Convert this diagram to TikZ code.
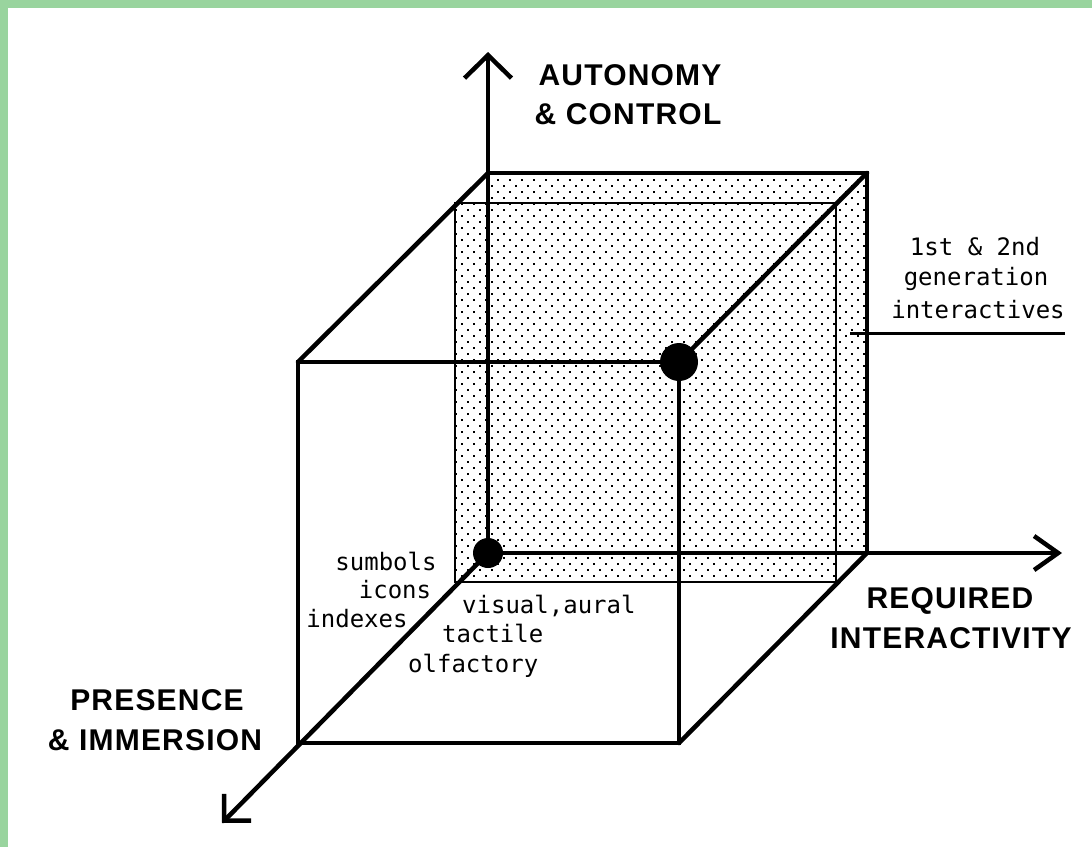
\documentclass[tikz,border=0pt]{standalone}
\usepackage{fontspec}
\usetikzlibrary{arrows.meta}
\newfontfamily\labelfont[LetterSpace=4]{Liberation Sans}
\newfontfamily\smallfont{DejaVu Sans Mono}
\definecolor{bordergreen}{RGB}{153,212,158}
\tikzset{
  thickedge/.style={line width=4.5pt, line cap=round, line join=miter},
  thinedge/.style={line width=1.8pt},
  leader/.style={line width=3pt},
  biglabel/.style={font=\labelfont\bfseries\fontsize{30}{36}\selectfont, inner sep=0pt, anchor=base},
  smalllabel/.style={font=\smallfont\fontsize{24}{28}\selectfont, inner sep=0pt},
  vertex/.style={circle, fill=black, draw=none, inner sep=0pt},
  uptip/.style={-{Straight Barb[length=23pt,width=47pt]}},
  righttip/.style={-{Straight Barb[length=24pt,width=34pt]}},
  diagtip/.style={-{Straight Barb[length=19pt,width=38pt]}}
}
\begin{document}
\begin{tikzpicture}[x=1pt,y=-1pt]
\useasboundingbox (0,0) rectangle (1092,847);
\fill[white] (0,0) rectangle (1092,847);
\fill[bordergreen] (0,0) rectangle (1092,8);
\fill[bordergreen] (0,0) rectangle (8,847);

% cube corners
\coordinate (B1) at (488,173);
\coordinate (B2) at (867,173);
\coordinate (B3) at (867,553);
\coordinate (O) at (488,553);
\coordinate (F1) at (298,362);
\coordinate (F2) at (679,362);
\coordinate (F3) at (679,743);
\coordinate (F4) at (298,743);
\coordinate (ztip) at (488,52);
\coordinate (xtip) at (1062,553);
\coordinate (ytip) at (222,823);
\coordinate (T1) at (455,203);
\coordinate (T2) at (836,582);
\coordinate (lead1) at (850,333);
\coordinate (lead2) at (1065,333);

% dotted shading
\begin{scope}
\clip (455,203) -- (488,203) -- (488,173) -- (867,173) -- (867,553) -- (836,553) -- (836,582) -- (455,582) -- cycle;
\foreach \i in {0,...,35}{
  \foreach \j in {0,...,35}{
    \fill (455+\i*12,173+\j*12) rectangle +(2.4,2.4);
    \fill (461+\i*12,179+\j*12) rectangle +(1.8,1.8);
  }
}
\end{scope}

% thin inner rectangle
\draw[thinedge] (T1) rectangle (T2);

% back face
\draw[thickedge] (B1) -- (B2) -- (B3);

% axes
\draw[thickedge, uptip] (O) -- (ztip);
\draw[thickedge, righttip] (O) -- (xtip);
\draw[thickedge, diagtip] (O) -- (ytip);

% front face
\draw[thickedge] (F1) -- (F2) -- (F3) -- (F4) -- cycle;

% receding edges
\draw[thickedge] (F1) -- (B1);
\draw[thickedge] (F2) -- (B2);
\draw[thickedge] (F3) -- (B3);

% leader line
\draw[leader] (lead1) -- (lead2);

% dots
\node[vertex, minimum size=30pt] (odot) at (O) {};
\node[vertex, minimum size=38pt] (fdot) at (F2) {};

% big labels
\node[biglabel] (autonomy) at (630,85) {AUTONOMY};
\node[biglabel] (control) at (628,124) {\& CONTROL};
\node[biglabel] (required) at (950,608) {REQUIRED};
\node[biglabel] (interactivity) at (951,648) {INTERACTIVITY};
\node[biglabel] (presence) at (157,710) {PRESENCE};
\node[biglabel] (immersion) at (155,750) {\& IMMERSION};

% small labels
\node[smalllabel, anchor=base] (gen1) at (975,255) {1st \& 2nd};
\node[smalllabel, anchor=base] (gen2) at (976,285) {generation};
\node[smalllabel, anchor=base] (gen3) at (978,318) {interactives};
\node[smalllabel, anchor=base] (sym) at (386,570) {sumbols};
\node[smalllabel, anchor=base] (icons) at (395,598) {icons};
\node[smalllabel, anchor=base] (indexes) at (357,627) {indexes};
\node[smalllabel, anchor=base west] (vis) at (462,613) {visual,aural};
\node[smalllabel, anchor=base west] (tact) at (442,642) {tactile};
\node[smalllabel, anchor=base west] (olf) at (408,672) {olfactory};
\end{tikzpicture}
\end{document}
